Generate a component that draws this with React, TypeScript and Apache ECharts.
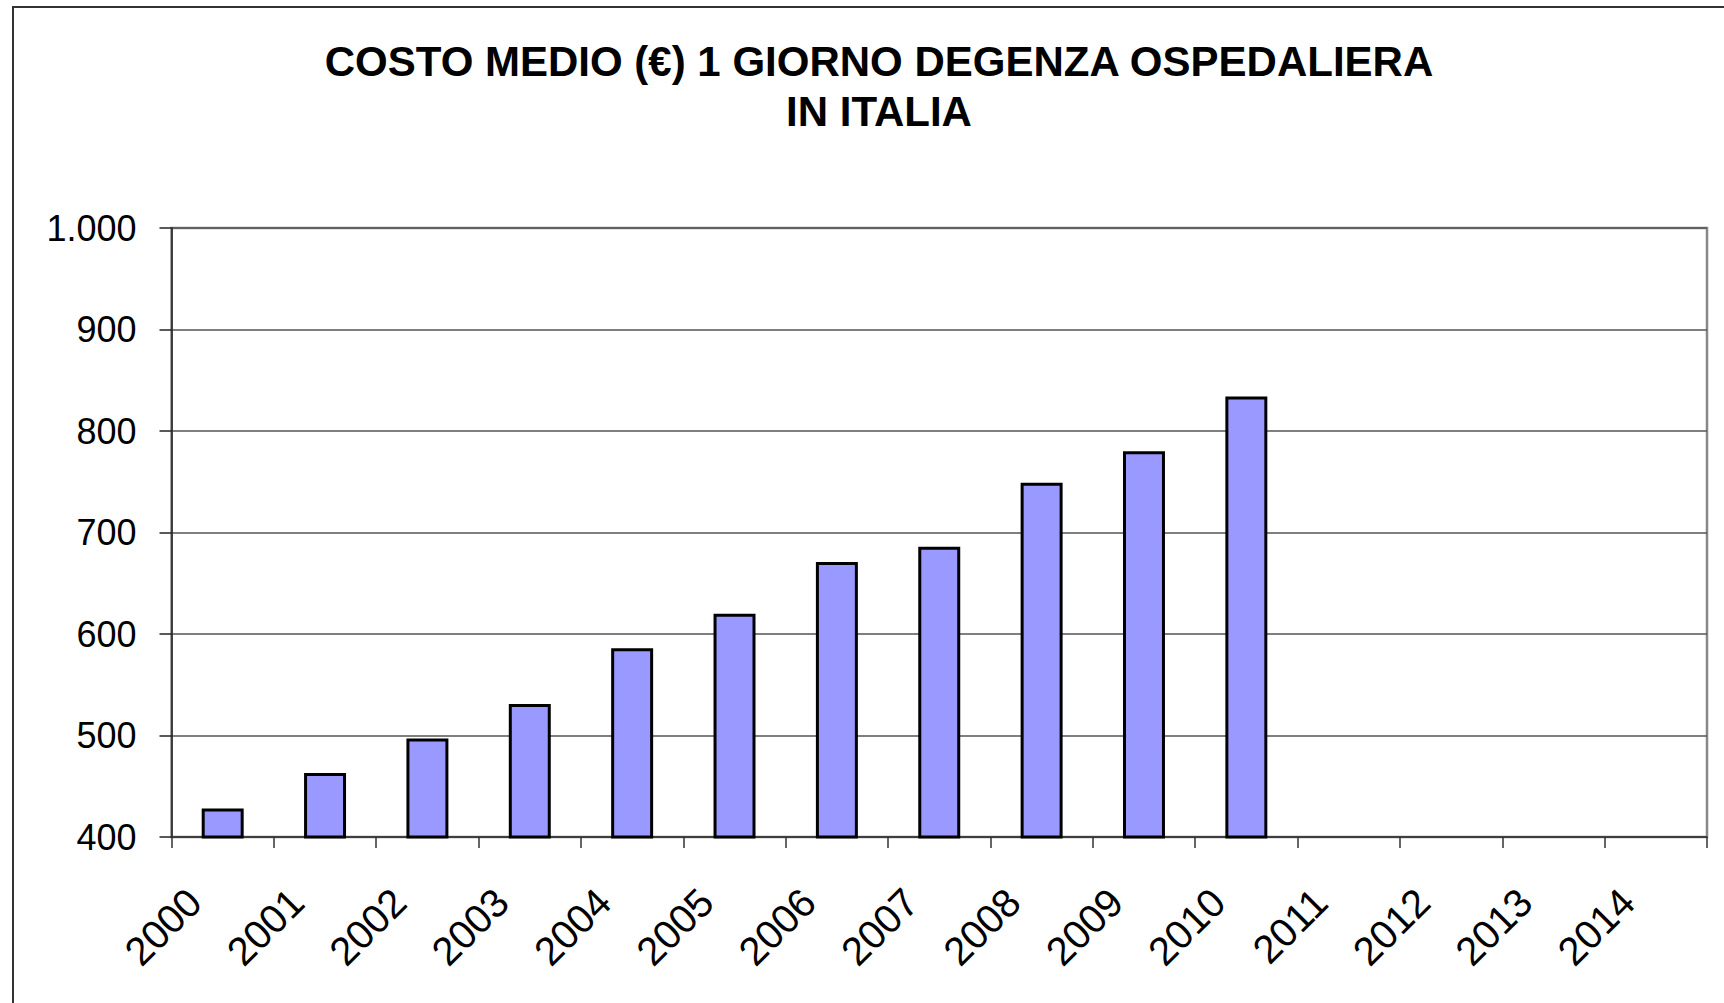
import React, { useEffect, useRef } from "react";
import * as echarts from "echarts";

const years = ["2000","2001","2002","2003","2004","2005","2006","2007","2008","2009","2010","2011","2012","2013","2014"];
const costs: (number | null)[] = [428, 463, 497, 531, 586, 620, 671, 686, 749, 780, 834, null, null, null, null];
const titleLines = ["COSTO MEDIO (€) 1 GIORNO DEGENZA OSPEDALIERA", "IN ITALIA"];
const yMin = 400;
const yMax = 1000;
const yStep = 100;

const FONT = "'Liberation Sans', Arial, sans-serif";

export default function App() {
  const ref = useRef<HTMLDivElement>(null);
  useEffect(() => {
    if (!ref.current) return;
    const chart = echarts.init(ref.current, null, { renderer: "svg" });
    chart.setOption({
      animation: false,
      backgroundColor: "#ffffff",
      title: {
        text: titleLines.join("\n"),
        left: 874,
        top: 31,
        textAlign: "center",
        textStyle: {
          fontFamily: FONT,
          fontSize: 42,
          fontWeight: "bold",
          color: "#000",
          lineHeight: 50,
        },
      },
      graphic: [
        {
          type: "rect",
          shape: { x: 13, y: 7, width: 1800, height: 1100 },
          style: { fill: "none", stroke: "#333", lineWidth: 2 },
          silent: true,
          z: 100,
        },
      ],
      grid: {
        left: 171.5,
        right: 17,
        top: 228,
        bottom: 166,
        show: true,
        borderColor: "#888",
        borderWidth: 2.5,
        backgroundColor: "transparent",
      },
      xAxis: {
        type: "category",
        data: years,
        boundaryGap: true,
        axisLine: { show: true, lineStyle: { color: "#333", width: 1.5 } },
        axisTick: { show: true, length: 11, inside: false, lineStyle: { color: "#333", width: 1.5 } },
        axisLabel: {
          rotate: 45,
          interval: 0,
          margin: 30,
          padding: [0, 40, 0, 0],
          fontFamily: FONT,
          fontSize: 40,
          color: "#000",
        },
        splitLine: { show: false },
      },
      yAxis: {
        type: "value",
        min: yMin,
        max: yMax,
        interval: yStep,
        axisLine: { show: true, lineStyle: { color: "#222", width: 1.5 } },
        axisTick: { show: true, length: 12, inside: false, lineStyle: { color: "#222", width: 1.5 } },
        axisLabel: {
          margin: 35,
          fontFamily: FONT,
          fontSize: 36,
          color: "#000",
          formatter: (v: number) => (v >= 1000 ? v.toLocaleString("it-IT").replace(/\s/g, ".") : String(v)),
        },
        splitLine: { show: true, lineStyle: { color: "#555", width: 1.5 } },
      },
      series: [
        {
          type: "bar",
          data: costs,
          barWidth: "41%",
          itemStyle: { color: "#9999FF", borderColor: "#000", borderWidth: 3 },
        },
      ],
    });
    return () => chart.dispose();
  }, []);
  return (
    <div
      ref={ref}
      style={{ position: "fixed", left: 0, top: 0, width: 1724, height: 1003, background: "#fff" }}
    />
  );
}
